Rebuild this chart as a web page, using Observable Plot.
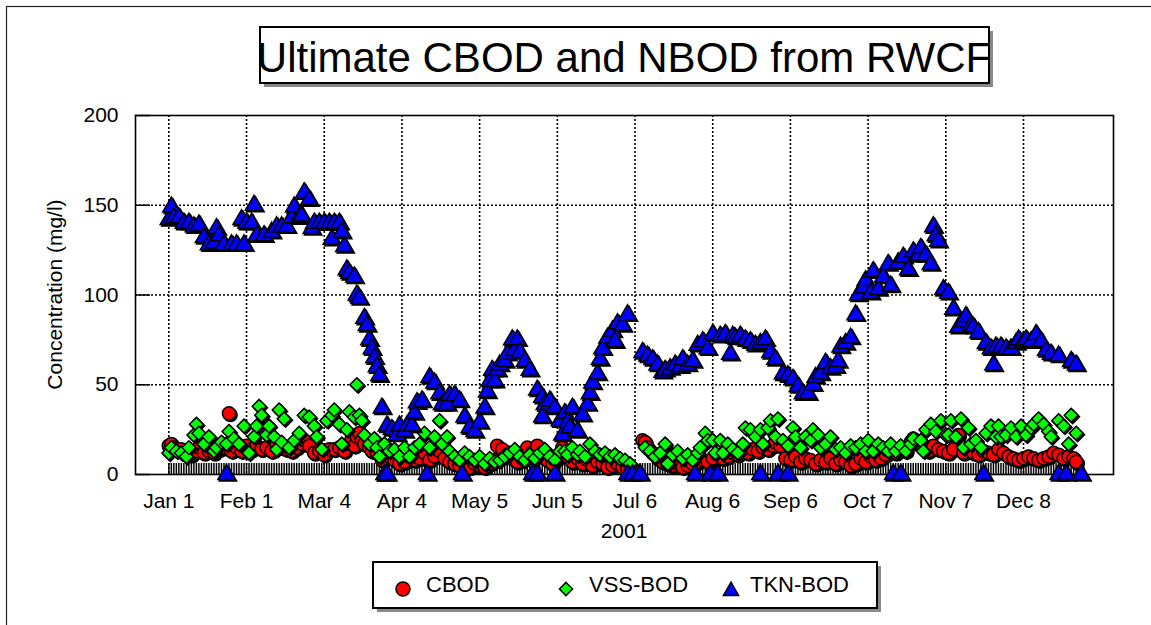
<!DOCTYPE html>
<html>
<head>
<meta charset="utf-8">
<script src="https://cdn.jsdelivr.net/npm/d3@7"></script>
<script src="https://cdn.jsdelivr.net/npm/@observablehq/plot@0.6"></script>
<style>
  html, body { margin: 0; padding: 0; background: #fff; }
  #chart svg { display: block; }
</style>
</head>
<body>
<div id="chart"></div>
<script>
// ---- Data (day of year 2001, 0 = Jan 1; concentration mg/l) ----
const tickDays = [0, 31, 62, 93, 124, 155, 186, 217, 248, 279, 310, 341];
const tickLabels = ["Jan 1", "Feb 1", "Mar 4", "Apr 4", "May 5", "Jun 5", "Jul 6", "Aug 6", "Sep 6", "Oct 7", "Nov 7", "Dec 8"];
const yTicks = [0, 50, 100, 150, 200];
const seriesNames = ["CBOD", "VSS-BOD", "TKN-BOD"];

const cbod = [[0,16],[1,17],[2,15],[3,14],[5,14],[7,12],[9,11],[11,13],[12,15],[14,12],[16,13],[18,12],[20,14],[22,15],[24,34],[25,13],[27,15],[29,13],[31,16],[33,14],[35,16],[37,14],[39,15],[41,13],[43,17],[45,15],[47,14],[49,13],[51,15],[53,17],[54,19],[56,16],[58,12],[60,13],[62,11],[64,14],[66,14],[68,15],[70,13],[72,17],[73,20],[74,16],[75,21],[76,23],[77,19],[78,17],[80,15],[81,13],[83,12],[85,8],[87,12],[88,10],[90,8],[92,6],[94,7],[96,10],[98,8],[100,9],[102,12],[104,8],[106,10],[108,13],[110,9],[112,7],[114,6],[116,5],[118,7],[120,4],[122,6],[124,5],[126,4],[128,6],[130,8],[131,16],[133,14],[135,11],[137,9],[139,7],[141,9],[143,15],[145,12],[147,16],[149,10],[151,8],[153,6],[155,9],[157,15],[159,10],[161,7],[163,9],[165,6],[167,8],[169,5],[171,7],[173,6],[175,4],[177,5],[179,6],[181,4],[183,3],[189,19],[190,18],[191,15],[193,12],[195,9],[197,7],[199,6],[201,5],[203,6],[205,4],[207,5],[209,6],[211,7],[213,8],[215,7],[217,9],[219,11],[221,9],[223,10],[225,12],[227,11],[229,13],[231,12],[233,14],[235,13],[237,15],[239,14],[241,16],[242,18],[244,16],[246,9],[248,8],[250,10],[252,7],[254,9],[256,8],[258,6],[260,8],[262,7],[264,9],[266,6],[268,8],[270,7],[272,5],[274,6],[276,9],[278,7],[280,10],[282,8],[284,9],[286,11],[288,13],[290,12],[292,14],[294,13],[296,18],[297,20],[299,17],[301,15],[303,13],[305,16],[307,14],[309,13],[311,12],[313,14],[315,22],[317,12],[319,14],[321,12],[323,11],[325,13],[327,12],[329,11],[331,14],[333,12],[335,10],[337,9],[339,8],[341,9],[343,10],[345,9],[347,8],[349,9],[351,10],[353,12],[355,11],[357,9],[359,10],[361,9],[362,7]];

const vss = [[0,12],[1,15],[3,13],[5,12],[7,10],[8,15],[10,22],[11,28],[12,23],[14,17],[16,21],[18,13],[19,15],[21,18],[23,17],[24,24],[26,20],[28,17],[30,27],[32,12],[34,21],[35,27],[36,38],[37,33],[39,22],[40,27],[42,21],[43,14],[44,36],[45,18],[46,31],[48,15],[50,19],[52,23],[54,33],[56,32],[58,27],[59,21],[61,14],[63,30],[65,33],[66,36],[68,28],[69,17],[71,25],[72,35],[74,32],[75,50],[76,33],[77,30],[78,22],[80,17],[82,20],[83,15],[84,10],[86,17],[88,13],[90,14],[92,10],[94,15],[96,10],[98,15],[100,17],[102,23],[104,15],[106,21],[108,30],[109,17],[111,21],[112,13],[114,10],[116,8],[118,12],[120,10],[122,8],[124,10],[126,6],[128,9],[130,7],[132,8],[134,10],[136,12],[138,14],[140,10],[142,8],[144,11],[146,9],[148,12],[150,14],[152,10],[154,8],[156,13],[158,13],[159,11],[161,15],[163,11],[164,13],[166,10],[168,17],[170,13],[172,11],[174,12],[176,10],[178,11],[180,9],[182,8],[184,6],[190,15],[192,13],[194,10],[196,12],[198,17],[199,6],[201,11],[203,13],[205,9],[207,11],[209,8],[211,12],[212,15],[214,23],[215,19],[217,19],[218,12],[220,19],[221,12],[223,17],[225,14],[227,12],[229,17],[230,26],[232,25],[234,21],[236,25],[237,17],[239,26],[240,30],[242,21],[243,31],[245,19],[247,16],[249,26],[250,21],[252,15],[254,21],[256,19],[257,25],[259,22],[260,15],[262,17],[264,21],[266,14],[268,15],[270,12],[272,16],[274,15],[276,17],[278,13],[279,19],[281,13],[283,17],[285,15],[287,13],[288,17],[290,13],[292,16],[294,13],[296,17],[297,20],[300,19],[301,13],[302,25],[304,28],[306,24],[308,30],[310,22],[311,22],[312,30],[314,21],[316,31],[317,15],[319,26],[320,17],[322,19],[324,15],[326,23],[328,27],[330,21],[331,27],[332,21],[334,22],[336,26],[338,21],[340,27],[342,22],[344,26],[345,28],[347,31],[349,28],[351,24],[352,21],[355,30],[357,27],[359,17],[360,33],[362,23]];

const tkn = [[0,142],[1,149],[2,143],[4,143],[6,140],[8,140],[10,138],[12,139],[14,132],[16,128],[18,129],[19,137],[20,133],[22,128],[23,0],[25,128],[27,128],[29,142],[30,128],[31,140],[33,140],[34,150],[35,133],[38,133],[41,135],[43,138],[45,138],[47,138],[49,143],[50,149],[52,143],[53,144],[54,157],[56,153],[57,137],[58,140],[60,140],[62,140],[64,140],[65,131],[66,140],[68,140],[69,135],[70,127],[71,114],[72,112],[74,110],[75,100],[76,98],[78,87],[79,83],[80,75],[81,70],[82,65],[83,60],[84,55],[85,37],[86,0],[87,27],[87,0],[89,25],[91,22],[92,27],[94,24],[95,27],[97,27],[98,34],[99,40],[101,41],[103,0],[104,54],[106,51],[108,45],[109,39],[111,39],[112,44],[114,44],[116,41],[117,0],[118,32],[120,26],[122,24],[124,29],[126,37],[127,46],[128,52],[129,58],[130,52],[131,58],[132,61],[134,63],[135,67],[137,75],[138,69],[139,75],[140,68],[142,63],[144,58],[145,0],[147,47],[147,0],[149,43],[150,39],[149,32],[152,41],[154,37],[154,0],[156,30],[157,22],[158,34],[159,29],[160,26],[161,37],[163,24],[165,33],[167,39],[168,45],[169,51],[171,56],[172,64],[173,70],[175,76],[177,80],[178,74],[179,84],[181,83],[183,89],[183,0],[185,0],[188,0],[189,68],[191,66],[193,64],[195,61],[197,57],[198,58],[200,59],[202,61],[204,60],[205,64],[207,61],[209,63],[210,0],[211,72],[213,74],[215,70],[216,0],[217,78],[219,0],[220,77],[222,78],[224,67],[225,77],[226,76],[228,77],[230,75],[232,74],[234,72],[236,0],[236,73],[238,75],[240,68],[242,64],[243,0],[245,56],[247,55],[247,0],[249,53],[251,49],[253,45],[255,45],[257,50],[258,54],[260,56],[262,62],[264,59],[266,60],[267,63],[268,71],[270,73],[272,76],[274,89],[275,100],[277,104],[278,108],[280,101],[281,113],[283,103],[285,110],[287,117],[288,105],[289,0],[291,118],[292,0],[293,121],[295,114],[297,124],[299,122],[300,126],[302,122],[304,117],[305,138],[306,133],[307,130],[309,103],[311,101],[313,92],[315,82],[317,85],[318,88],[320,83],[321,82],[323,79],[325,0],[326,73],[328,70],[329,61],[330,71],[332,71],[334,70],[336,70],[338,73],[339,75],[341,74],[342,75],[344,74],[346,78],[348,74],[350,69],[352,67],[355,66],[355,0],[358,0],[360,63],[362,61],[364,0]];

// ---- Layout constants ----
const W = 1151, H = 625;
const mL = 135, mR = 38, mT = 115, mB = 151;
const innerW = W - mL - mR, innerH = H - mT - mB;
const FONT = "'Liberation Sans', Arial, Helvetica, sans-serif";
const minorDays = d3.range(0, 366);

const colors = {"CBOD": "#ff0000", "VSS-BOD": "#00ff00", "TKN-BOD": "#0000ff"};
const symbols = {"CBOD": "circle", "VSS-BOD": "diamond2", "TKN-BOD": "triangle"};
const radii = {"CBOD": 6.6, "VSS-BOD": 6.2, "TKN-BOD": 6.4};
const seriesData = {"CBOD": cbod, "VSS-BOD": vss, "TKN-BOD": tkn};

function seriesMarks(name) {
  const data = seriesData[name];
  return [
    Plot.dot(data, {x: d => d[0], y: d => d[1], symbol: symbols[name], r: radii[name],
      fill: "black", stroke: "black", strokeWidth: 1.5, dx: 1.5, dy: 1.5}),
    Plot.dot(data, {x: d => d[0], y: d => d[1], symbol: symbols[name], r: radii[name],
      fill: colors[name], stroke: "black", strokeWidth: 1.5})
  ];
}

const chart = Plot.plot({
  width: W, height: H,
  marginLeft: mL, marginRight: mR, marginTop: mT, marginBottom: mB,
  style: {fontFamily: FONT, background: "white", overflow: "visible", color: "black"},
  x: {domain: [-13.3, 376.9]},
  y: {domain: [0, 200]},
  marks: [
    Plot.gridY(yTicks.slice(1, -1), {stroke: "black", strokeOpacity: 1, strokeWidth: 1.6, strokeDasharray: "2,2"}),
    Plot.gridX(tickDays, {stroke: "black", strokeOpacity: 1, strokeWidth: 1.6, strokeDasharray: "2,2"}),
    Plot.tickX(minorDays, {x: d => d, insetTop: innerH - 11, stroke: "black", strokeWidth: 1.5}),
    Plot.tickY(yTicks, {y: d => d, insetRight: innerW - 15, stroke: "black", strokeWidth: 1.5}),
    Plot.axisY(yTicks, {tickSize: 0, tickPadding: 17, fontSize: 21, label: null}),
    Plot.axisX(tickDays, {tickSize: 0, tickPadding: 19, fontSize: 21, label: null,
      tickFormat: d => tickLabels[tickDays.indexOf(d)]}),
    Plot.frame({stroke: "black", strokeWidth: 1.6}),
    ...seriesMarks("CBOD"),
    ...seriesMarks("VSS-BOD"),
    ...seriesMarks("TKN-BOD")
  ]
});

document.getElementById("chart").appendChild(chart);

// ---- Decorations: outer border, title, axis labels, legend ----
const svg = d3.select(chart);
const deco = svg.append("g").attr("font-family", FONT).attr("text-anchor", "start").attr("fill", "black");

deco.append("rect").attr("x", 6.5).attr("y", 6.5).attr("width", W + 50).attr("height", H + 50)
  .attr("fill", "none").attr("stroke", "#222").attr("stroke-width", 1.2);

// Title box
const cx = mL + innerW / 2;
deco.append("rect").attr("x", 264).attr("y", 31).attr("width", 729).attr("height", 56).attr("fill", "#888");
deco.append("rect").attr("x", 260).attr("y", 27).attr("width", 729).attr("height", 56)
  .attr("fill", "white").attr("stroke", "black").attr("stroke-width", 2);
deco.append("text").attr("x", cx).attr("y", 72).attr("text-anchor", "middle")
  .attr("font-size", 42).text("Ultimate CBOD and NBOD from RWCF");

// Y label
deco.append("text").attr("transform", `translate(62, ${mT + innerH / 2}) rotate(-90)`)
  .attr("text-anchor", "middle").attr("font-size", 21).text("Concentration (mg/l)");

// X label
deco.append("text").attr("x", cx).attr("y", 538).attr("text-anchor", "middle")
  .attr("font-size", 21).text("2001");

// Legend
deco.append("rect").attr("x", 377).attr("y", 566).attr("width", 504).attr("height", 46).attr("fill", "#888");
deco.append("rect").attr("x", 373).attr("y", 562).attr("width", 504).attr("height", 46)
  .attr("fill", "white").attr("stroke", "black").attr("stroke-width", 2);
const legendItems = [
  {name: seriesNames[0], sx: 403, sy: 589, tx: 426, type: d3.symbolCircle, size: Math.PI * 7 * 7},
  {name: seriesNames[1], sx: 566, sy: 589, tx: 589, type: d3.symbolDiamond2, size: 110},
  {name: seriesNames[2], sx: 731, sy: 591, tx: 750, type: d3.symbolTriangle, size: 100}
];
for (const it of legendItems) {
  deco.append("path").attr("d", d3.symbol(it.type, it.size)())
    .attr("transform", `translate(${it.sx},${it.sy})`)
    .attr("fill", colors[it.name]).attr("stroke", "black").attr("stroke-width", 1.5);
  deco.append("text").attr("x", it.tx).attr("y", 592).attr("text-anchor", "start")
    .attr("font-size", 22).text(it.name);
}
</script>
</body>
</html>
